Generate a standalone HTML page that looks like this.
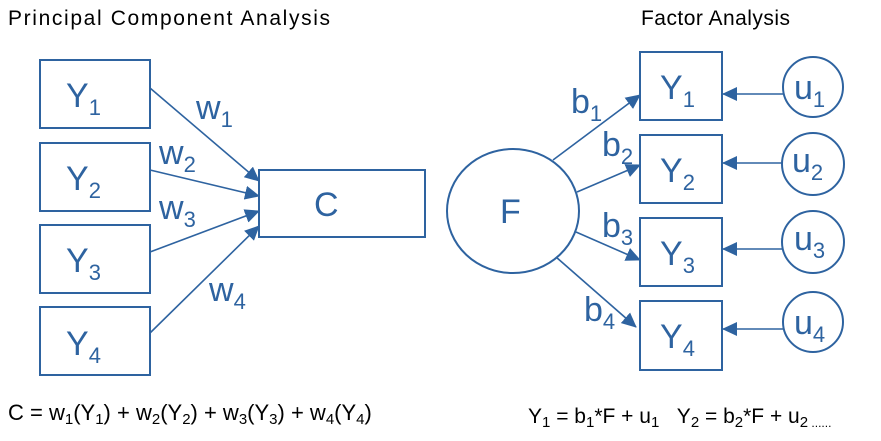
<!DOCTYPE html>
<html><head><meta charset="utf-8"><style>
body{margin:0;background:#fff;}
svg text{font-family:"Liberation Sans",sans-serif;}
</style></head><body>
<svg width="881" height="436" viewBox="0 0 881 436" xmlns="http://www.w3.org/2000/svg">
<defs><marker id="a" markerWidth="15" markerHeight="14" refX="14" refY="7" orient="auto" markerUnits="userSpaceOnUse"><path d="M0,0 L15,7 L0,14 z" fill="#2e63a0"/></marker></defs>
<text x="8" y="25" font-size="21" fill="#000" textLength="322">Principal Component Analysis</text>
<text x="641" y="25" font-size="21" fill="#000" textLength="149">Factor Analysis</text>
<g fill="none" stroke="#2e63a0" stroke-width="2">
<rect x="40" y="60" width="110" height="68"/>
<rect x="40" y="143" width="110" height="68"/>
<rect x="40" y="225" width="110" height="68"/>
<rect x="40" y="307" width="110" height="68"/>
<rect x="259" y="170" width="166" height="67"/>
<rect x="640" y="52" width="82" height="68"/>
<rect x="640" y="135" width="82" height="68"/>
<rect x="640" y="218" width="82" height="68"/>
<rect x="640" y="301" width="82" height="69"/>
<ellipse cx="513" cy="211" rx="66" ry="62"/>
<circle cx="813" cy="87" r="30"/>
<circle cx="813" cy="164" r="31"/>
<circle cx="813" cy="242" r="31"/>
<circle cx="813" cy="322" r="30"/>
</g>
<g stroke="#2e63a0" stroke-width="1.6" marker-end="url(#a)">
<line x1="150" y1="88" x2="259" y2="181"/>
<line x1="150" y1="170" x2="259" y2="196"/>
<line x1="150" y1="252" x2="259" y2="211"/>
<line x1="150" y1="333" x2="259" y2="226"/>
<line x1="553" y1="160" x2="640" y2="95"/>
<line x1="577" y1="192" x2="640" y2="165"/>
<line x1="576" y1="232" x2="640" y2="260"/>
<line x1="556" y1="257" x2="636" y2="327"/>
<line x1="783" y1="94" x2="723" y2="94"/>
<line x1="783" y1="163" x2="723" y2="163"/>
<line x1="783" y1="249" x2="723" y2="249"/>
<line x1="783" y1="329" x2="723" y2="329"/>
</g>
<g fill="#2e63a0" font-size="34">
<text x="66" y="107">Y<tspan font-size="22" dy="8">1</tspan></text>
<text x="66" y="190">Y<tspan font-size="22" dy="8">2</tspan></text>
<text x="66" y="272">Y<tspan font-size="22" dy="8">3</tspan></text>
<text x="66" y="355">Y<tspan font-size="22" dy="8">4</tspan></text>
<text x="314" y="216">C</text>
<text x="196" y="119">w<tspan font-size="22" dy="8">1</tspan></text>
<text x="159" y="164">w<tspan font-size="22" dy="8">2</tspan></text>
<text x="159" y="219">w<tspan font-size="22" dy="8">3</tspan></text>
<text x="209" y="301">w<tspan font-size="22" dy="8">4</tspan></text>
<text x="660" y="99">Y<tspan font-size="22" dy="8">1</tspan></text>
<text x="660" y="182">Y<tspan font-size="22" dy="8">2</tspan></text>
<text x="660" y="265">Y<tspan font-size="22" dy="8">3</tspan></text>
<text x="660" y="348">Y<tspan font-size="22" dy="8">4</tspan></text>
<text x="500" y="223">F</text>
<text x="571" y="113">b<tspan font-size="22" dy="8">1</tspan></text>
<text x="602" y="156">b<tspan font-size="22" dy="8">2</tspan></text>
<text x="602" y="237">b<tspan font-size="22" dy="8">3</tspan></text>
<text x="584" y="321">b<tspan font-size="22" dy="8">4</tspan></text>
<text x="794" y="99">u<tspan font-size="22" dy="8">1</tspan></text>
<text x="792" y="172">u<tspan font-size="22" dy="8">2</tspan></text>
<text x="794" y="250">u<tspan font-size="22" dy="8">3</tspan></text>
<text x="794" y="334">u<tspan font-size="22" dy="8">4</tspan></text>
</g>
<text x="8" y="420" font-size="22" fill="#000">C = w<tspan font-size="15" dy="4">1</tspan><tspan dy="-4">(Y</tspan><tspan font-size="15" dy="4">1</tspan><tspan dy="-4">) + w</tspan><tspan font-size="15" dy="4">2</tspan><tspan dy="-4">(Y</tspan><tspan font-size="15" dy="4">2</tspan><tspan dy="-4">) + w</tspan><tspan font-size="15" dy="4">3</tspan><tspan dy="-4">(Y</tspan><tspan font-size="15" dy="4">3</tspan><tspan dy="-4">) + w</tspan><tspan font-size="15" dy="4">4</tspan><tspan dy="-4">(Y</tspan><tspan font-size="15" dy="4">4</tspan><tspan dy="-4">)</tspan></text>
<text x="528" y="423" font-size="21" fill="#000">Y<tspan font-size="15" dy="4">1</tspan><tspan dy="-4"> = b</tspan><tspan font-size="15" dy="4">1</tspan><tspan dy="-4">*F + u</tspan><tspan font-size="15" dy="4">1</tspan><tspan dy="-4">&#160;&#160;&#160;Y</tspan><tspan font-size="15" dy="4">2</tspan><tspan dy="-4"> = b</tspan><tspan font-size="15" dy="4">2</tspan><tspan dy="-4">*F + u</tspan><tspan font-size="15" dy="4">2</tspan><tspan font-size="12" dy="0">&#160;......</tspan></text>
</svg>
</body></html>
